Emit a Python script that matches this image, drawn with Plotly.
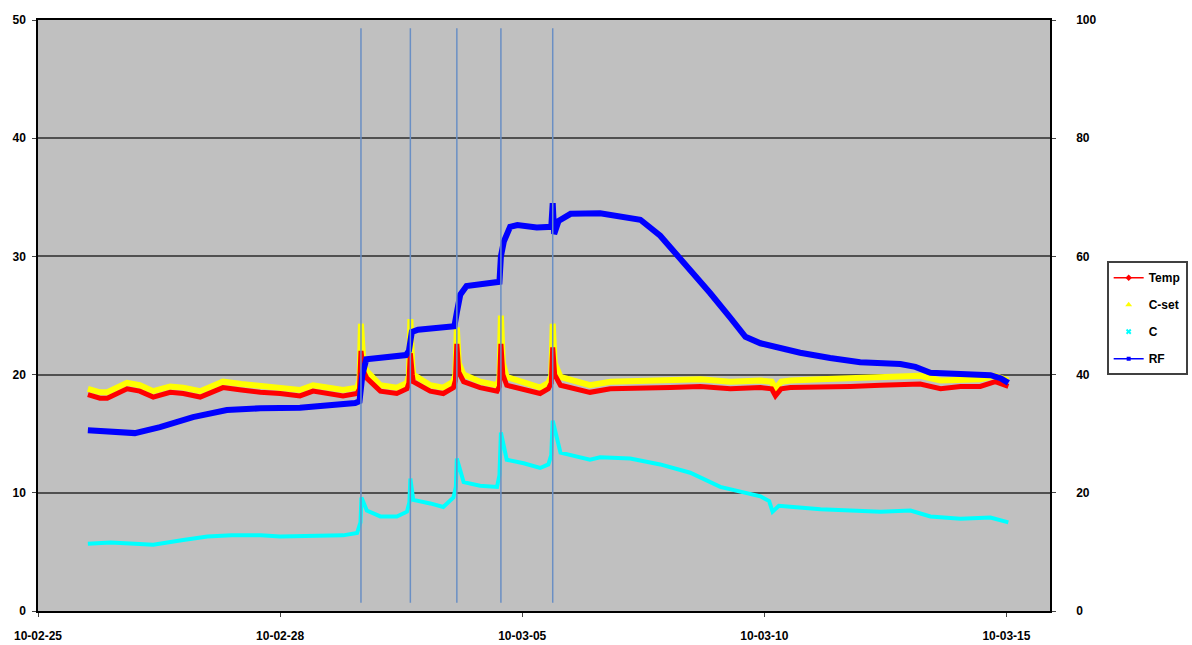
import plotly.graph_objects as go

# x in days from the first tick (tick every 5 days)
tick_vals = [0, 5, 10, 15, 20]
tick_text = ["10-02-25", "10-02-28", "10-03-05", "10-03-10", "10-03-15"]

# event markers (vertical lines)
events = [6.67, 7.69, 8.65, 9.56, 10.63]

temp_x = [1.03, 1.28, 1.43, 1.84, 2.10, 2.38, 2.73, 3.00, 3.35, 3.82, 4.20, 4.59, 5.00, 5.41, 5.68, 6.00, 6.30, 6.59, 6.64, 6.67, 6.72,
          6.79, 7.07, 7.41, 7.62, 7.66, 7.69, 7.73, 7.75, 8.10, 8.37, 8.58, 8.62, 8.65, 8.69, 8.79, 9.13, 9.48, 9.53, 9.56, 9.60,
          9.68, 10.03, 10.37, 10.54, 10.60, 10.63, 10.67, 10.79, 11.40, 11.82, 12.44, 13.06, 13.68, 14.30, 14.92, 15.15, 15.23, 15.35,
          15.54, 16.16, 16.78, 17.40, 17.81, 18.22, 18.64, 19.05, 19.46, 19.77, 20.04]
temp_y = [18.3, 18.0, 18.0, 18.8, 18.6, 18.1, 18.5, 18.4, 18.1, 18.9, 18.7, 18.5, 18.4, 18.2, 18.6, 18.4, 18.2, 18.4, 18.8, 22.0, 20.3,
          19.7, 18.6, 18.4, 18.8, 19.3, 21.8, 20.0, 19.4, 18.6, 18.4, 18.9, 19.5, 22.6, 20.2, 19.4, 18.9, 18.6, 19.0, 22.6, 20.0,
          19.1, 18.7, 18.4, 18.8, 19.3, 22.3, 20.0, 19.1, 18.5, 18.8, 18.8, 18.9, 19.0, 18.8, 18.9, 18.8, 18.2, 18.8,
          18.9, 18.9, 19.0, 19.1, 19.2, 19.2, 18.8, 19.0, 19.0, 19.4, 19.0]

cset_x = temp_x
cset_y = [18.8, 18.5, 18.5, 19.3, 19.1, 18.6, 19.0, 18.9, 18.6, 19.4, 19.2, 19.0, 18.9, 18.7, 19.1, 18.9, 18.7, 18.9, 19.5, 24.3, 21.0,
          20.3, 19.1, 18.9, 19.3, 19.9, 24.7, 20.8, 20.0, 19.1, 18.9, 19.4, 20.0, 24.0, 21.0, 20.0, 19.4, 19.1, 19.6, 25.0, 21.0,
          19.8, 19.3, 18.9, 19.3, 19.9, 24.3, 21.0, 19.8, 19.1, 19.4, 19.5, 19.5, 19.6, 19.4, 19.5, 19.4, 18.8, 19.4,
          19.5, 19.6, 19.7, 19.8, 19.9, 19.9, 19.5, 19.6, 19.6, 19.9, 19.5]

c_x = [1.03, 1.50, 2.00, 2.38, 3.00, 3.50, 4.00, 4.60, 5.00, 5.80, 6.30, 6.59, 6.66, 6.68, 6.79, 7.07, 7.41, 7.62, 7.67, 7.69,
       7.75, 8.10, 8.37, 8.58, 8.63, 8.65, 8.79, 9.13, 9.48, 9.53, 9.56, 9.68, 10.03, 10.37, 10.54, 10.60, 10.63, 10.79, 11.40,
       11.61, 12.23, 12.85, 13.47, 14.09, 14.50, 14.92, 15.10, 15.17, 15.30, 15.54, 16.16, 16.78, 17.40, 18.02, 18.43, 19.05,
       19.67, 20.04]
c_y = [5.7, 5.8, 5.7, 5.6, 6.0, 6.3, 6.4, 6.4, 6.3, 6.4, 6.4, 6.6, 7.5, 9.6, 8.5, 8.0, 8.0, 8.4, 9.2, 11.2,
       9.4, 9.1, 8.8, 9.6, 10.5, 12.9, 10.9, 10.6, 10.5, 11.5, 15.1, 12.8, 12.5, 12.1, 12.4, 13.2, 16.1, 13.4, 12.8,
       13.0, 12.9, 12.4, 11.7, 10.5, 10.1, 9.7, 9.3, 8.4, 8.9, 8.8, 8.6, 8.5, 8.4, 8.5, 8.0, 7.8,
       7.9, 7.5]

rf_x = [1.03, 1.50, 2.00, 2.52, 3.20, 3.90, 4.59, 5.41, 6.24, 6.55, 6.64, 6.70, 6.78, 7.20, 7.60, 7.66, 7.69, 7.72, 7.85, 8.20,
        8.60, 8.65, 8.72, 8.85, 9.20, 9.53, 9.56, 9.62, 9.75, 9.90, 10.30, 10.60, 10.63, 10.66, 10.75, 11.00, 11.61, 12.44, 12.85,
        13.26, 13.68, 13.88, 14.30, 14.61, 14.92, 15.33, 15.74, 16.36, 16.98, 17.81, 18.12, 18.43, 19.05, 19.67, 19.88, 20.04]
rf_y = [30.6, 30.3, 30.1, 31.1, 32.8, 34.0, 34.3, 34.4, 34.9, 35.2, 35.5, 40.0, 42.6, 43.0, 43.3, 44.0, 45.5, 47.2, 47.6, 47.9,
        48.2, 50.5, 53.5, 55.0, 55.4, 55.7, 60.0, 62.5, 65.0, 65.3, 64.9, 65.0, 69.0, 63.8, 66.0, 67.2, 67.3, 66.2, 63.5,
        59.7, 55.5, 53.8, 49.6, 46.4, 45.3, 44.5, 43.7, 42.8, 42.1, 41.8, 41.3, 40.3, 40.1, 39.9, 39.4, 38.6]

fig = go.Figure()

fig.add_trace(go.Scatter(x=cset_x, y=cset_y, mode="lines", line=dict(color="#ffff00", width=6),
                         showlegend=False, hoverinfo="skip"))
fig.add_trace(go.Scatter(x=temp_x, y=temp_y, mode="lines", line=dict(color="#ff0000", width=5),
                         showlegend=False, hoverinfo="skip"))
fig.add_trace(go.Scatter(x=c_x, y=c_y, mode="lines", line=dict(color="#00ffff", width=4),
                         showlegend=False, hoverinfo="skip"))
fig.add_trace(go.Scatter(x=rf_x, y=rf_y, mode="lines", line=dict(color="#0000ff", width=6),
                         showlegend=False, yaxis="y2", hoverinfo="skip"))

# legend entries
fig.add_trace(go.Scatter(x=[None], y=[None], mode="lines+markers", name="Temp", legendgroup="a",
                         line=dict(color="#ff0000", width=1.5), marker=dict(symbol="diamond", size=5, color="#ff0000")))
fig.add_trace(go.Scatter(x=[None], y=[None], mode="markers", name="C-set", legendgroup="b",
                         marker=dict(symbol="triangle-up", size=6, color="#ffff00")))
fig.add_trace(go.Scatter(x=[None], y=[None], mode="markers", name="C", legendgroup="c",
                         marker=dict(symbol="x", size=5, color="#00ffff")))
fig.add_trace(go.Scatter(x=[None], y=[None], mode="lines+markers", name="RF", legendgroup="d",
                         line=dict(color="#0000ff", width=1.5), marker=dict(symbol="square", size=4, color="#0000ff")))

for e in events:
    fig.add_shape(type="line", x0=e, x1=e, y0=0.7, y1=49.3, xref="x", yref="y",
                  line=dict(color="#6a8fc4", width=1.5))

fam = "Liberation Sans, Arial, sans-serif"
bold = dict(family=fam, size=12, color="black", weight="bold")

fig.update_layout(
    width=1192, height=645,
    margin=dict(l=38, r=142, t=20, b=34, autoexpand=False),
    paper_bgcolor="white", plot_bgcolor="#c0c0c0",
    font=bold,
    xaxis=dict(range=[0, 20.9], tickvals=tick_vals, ticktext=tick_text, showgrid=False, zeroline=False,
               showline=True, linecolor="black", linewidth=2, mirror=True, ticks="outside", ticklen=4, tickcolor="#444",
               tickfont=bold, ticklabelstandoff=9),
    yaxis=dict(range=[0, 50], dtick=10, showgrid=True, gridcolor="#505050", gridwidth=2, zeroline=False,
               showline=True, linecolor="black", linewidth=1.5, ticks="outside", ticklen=4, tickcolor="#444",
               tickfont=bold, ticklabelstandoff=4),
    yaxis2=dict(range=[0, 100], dtick=20, overlaying="y", side="right", showgrid=False, zeroline=False,
                showline=True, linecolor="black", linewidth=1.5, ticks="outside", ticklen=4, tickcolor="#444",
                tickfont=bold, ticklabelstandoff=18),
    legend=dict(x=1.056, y=0.592, xanchor="left", yanchor="top", bgcolor="white", bordercolor="#404040",
                borderwidth=2, font=bold, traceorder="grouped", tracegroupgap=8, itemwidth=30),
)

fig.write_html("out.html")
